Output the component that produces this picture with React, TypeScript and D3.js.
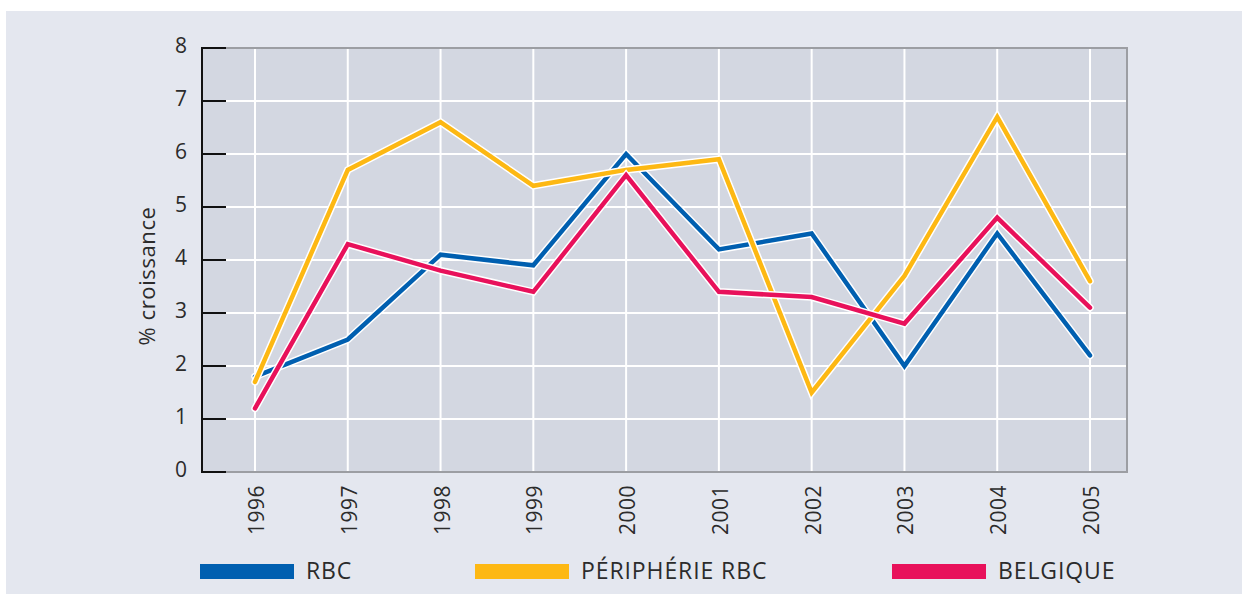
import * as d3 from "d3";

const years = ["1996", "1997", "1998", "1999", "2000", "2001", "2002", "2003", "2004", "2005"];
const rbc = [1.8, 2.5, 4.1, 3.9, 6.0, 4.2, 4.5, 2.0, 4.5, 2.2];
const peripherie = [1.7, 5.7, 6.6, 5.4, 5.7, 5.9, 1.5, 3.7, 6.7, 3.6];
const belgique = [1.2, 4.3, 3.8, 3.4, 5.6, 3.4, 3.3, 2.8, 4.8, 3.1];
const yTicks = [0, 1, 2, 3, 4, 5, 6, 7, 8];

const series = [
  { name: "RBC", values: rbc, color: "#005fb0" },
  { name: "PÉRIPHÉRIE RBC", values: peripherie, color: "#fdb813" },
  { name: "BELGIQUE", values: belgique, color: "#e8115b" },
];

// legend positions (swatch x)
const legendX = [200, 475, 892];

const W = 1242;
const H = 594;
const plot = { left: 202, right: 1127, top: 48, bottom: 472 };

export default function App() {
  const x = d3.scalePoint<string>().domain(years).range([255, 1090]);
  const y = d3.scaleLinear().domain([0, 8]).range([plot.bottom, plot.top]);

  const line = d3
    .line<number>()
    .x((_, i) => x(years[i]) as number)
    .y((d) => y(d));

  const font = "'Open Sans', 'DejaVu Sans', sans-serif";
  const textColor = "#2b2b2b";

  return (
    <div style={{ position: "absolute", left: 0, top: 0 }}>
      <svg width={W} height={H} style={{ display: "block" }} fontFamily={font}>
        <rect x={0} y={0} width={W} height={H} fill="#ffffff" />
        <rect x={6} y={11} width={W - 6} height={H - 11} fill="#e4e7ef" />

        {/* plot background */}
        <rect
          x={plot.left}
          y={plot.top}
          width={plot.right - plot.left}
          height={plot.bottom - plot.top}
          fill="#d3d7e1"
          stroke="#9c9ea3"
          strokeWidth={2}
        />

        {/* grid */}
        {yTicks.slice(1, -1).map((t) => (
          <line key={"h" + t} x1={plot.left} x2={plot.right - 1} y1={y(t)} y2={y(t)} stroke="#fff" strokeWidth={2} />
        ))}
        {years.map((yr) => (
          <line key={"v" + yr} x1={x(yr)} x2={x(yr)} y1={plot.top + 1} y2={plot.bottom - 1} stroke="#fff" strokeWidth={2} />
        ))}

        {/* y axis */}
        <line x1={plot.left} x2={plot.left} y1={plot.top - 1} y2={plot.bottom + 1} stroke="#111" strokeWidth={2} />
        {yTicks.map((t) => (
          <g key={"t" + t}>
            <line x1={plot.left} x2={plot.left + 24} y1={y(t)} y2={y(t)} stroke="#111" strokeWidth={2} />
            <text
              x={187}
              y={y(t) - 3}
              textAnchor="end"
              dominantBaseline="central"
              fontSize={21}
              fill={textColor}
            >
              {t}
            </text>
          </g>
        ))}
        <text
          transform={`translate(146,${(207 + 345) / 2}) rotate(-90)`}
          textAnchor="middle"
          dominantBaseline="central"
          fontSize={22}
          letterSpacing={0.6}
          fill={textColor}
        >
          % croissance
        </text>

        {/* x labels */}
        {years.map((yr) => (
          <text
            key={"x" + yr}
            transform={`translate(${(x(yr) as number) + 1},485) rotate(-90)`}
            textAnchor="end"
            dominantBaseline="central"
            fontSize={21}
            letterSpacing={0.5}
            fill={textColor}
          >
            {yr}
          </text>
        ))}

        {/* lines: white halo then colour */}
        {series.map((s) => (
          <g key={"s" + s.name}>
            <path
              d={line(s.values) as string}
              fill="none"
              stroke="#ffffff"
              strokeWidth={7.5}
              strokeLinejoin="miter"
              strokeLinecap="round"
            />
            <path
              d={line(s.values) as string}
              fill="none"
              stroke={s.color}
              strokeWidth={4.5}
              strokeLinejoin="miter"
              strokeLinecap="round"
            />
          </g>
        ))}

        {/* legend */}
        {series.map((s, i) => (
          <g key={"lg" + s.name}>
            <rect x={legendX[i]} y={564} width={94} height={15} fill={s.color} />
            <text x={legendX[i] + 106} y={579} fontSize={23} letterSpacing={0.9} fill={textColor}>
              {s.name}
            </text>
          </g>
        ))}
      </svg>
    </div>
  );
}
